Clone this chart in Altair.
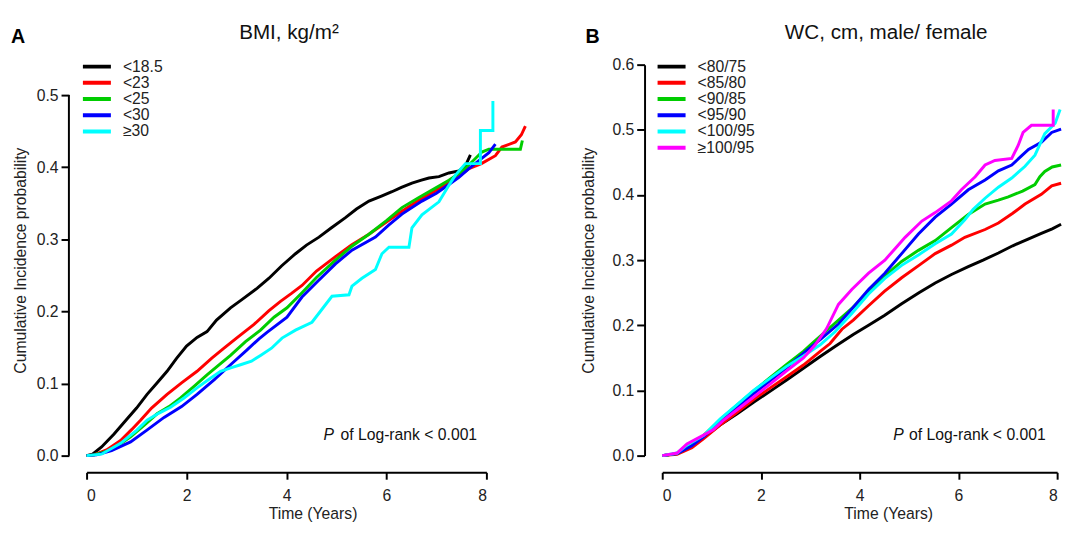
import altair as alt
import pandas as pd

FONT = "Liberation Sans"

# ---------------- Panel A: BMI ----------------
bmi_groups = ["<18.5", "<23", "<25", "<30", "≥30"]
bmi_colors = ["#000000", "#FF0000", "#00CD00", "#0000FF", "#00FFFF"]

a1_t = [0, 0.12, 0.3, 0.55, 0.8, 1.0, 1.21, 1.4, 1.61, 1.8, 2.0, 2.21, 2.41, 2.6, 2.88, 3.1, 3.41, 3.65,
        3.9, 4.18, 4.4, 4.65, 4.9, 5.18, 5.4, 5.65, 5.9, 6.11, 6.3, 6.51, 6.7, 6.85, 7.05, 7.25, 7.45, 7.58, 7.68]
a1_v = [0, 0.002, 0.012, 0.030, 0.050, 0.066, 0.085, 0.100, 0.117, 0.135, 0.152, 0.164, 0.172, 0.188, 0.205,
        0.216, 0.232, 0.246, 0.263, 0.280, 0.292, 0.303, 0.316, 0.330, 0.342, 0.353, 0.360, 0.366, 0.372,
        0.378, 0.382, 0.385, 0.387, 0.392, 0.395, 0.402, 0.417]

a2_t = [0, 0.15, 0.4, 0.68, 0.9, 1.08, 1.3, 1.61, 1.9, 2.21, 2.5, 2.75, 3.0, 3.35, 3.65, 3.88, 4.1, 4.31,
        4.6, 4.98, 5.3, 5.65, 6.0, 6.31, 6.6, 6.85, 7.1, 7.31, 7.65, 7.9, 8.18, 8.31, 8.58, 8.7, 8.78]
a2_v = [0, 0.001, 0.008, 0.021, 0.036, 0.049, 0.066, 0.085, 0.101, 0.117, 0.135, 0.149, 0.163, 0.182,
        0.201, 0.214, 0.225, 0.236, 0.256, 0.276, 0.292, 0.307, 0.324, 0.339, 0.352, 0.362, 0.372, 0.380,
        0.398, 0.405, 0.416, 0.428, 0.435, 0.445, 0.457]

a3_t = [0, 0.15, 0.5, 0.88, 1.15, 1.41, 1.65, 1.88, 2.15, 2.41, 2.65, 2.88, 3.18, 3.48, 3.75, 4.01, 4.31,
        4.6, 4.98, 5.3, 5.65, 6.0, 6.31, 6.65, 6.98, 7.25, 7.51, 7.75, 7.91, 8.05, 8.68, 8.72]
a3_v = [0, 0.001, 0.008, 0.026, 0.042, 0.058, 0.068, 0.080, 0.096, 0.112, 0.126, 0.139, 0.158, 0.174,
        0.192, 0.205, 0.226, 0.247, 0.271, 0.290, 0.307, 0.326, 0.344, 0.358, 0.371, 0.382, 0.394, 0.410,
        0.421, 0.425, 0.425, 0.437]

a4_t = [0, 0.2, 0.5, 0.88, 1.2, 1.55, 1.9, 2.21, 2.55, 2.88, 3.2, 3.45, 3.61, 4.01, 4.31, 4.6, 4.98, 5.31,
        5.78, 6.05, 6.31, 6.71, 7.0, 7.25, 7.45, 7.65, 7.9, 8.05, 8.18]
a4_v = [0, 0.001, 0.007, 0.019, 0.035, 0.053, 0.068, 0.085, 0.105, 0.126, 0.146, 0.162, 0.171, 0.192,
        0.220, 0.240, 0.266, 0.285, 0.303, 0.320, 0.335, 0.353, 0.364, 0.376, 0.386, 0.398, 0.412, 0.420, 0.432]

a5_t = [0, 0.3, 0.68, 1.0, 1.21, 1.45, 1.68, 1.95, 2.21, 2.45, 2.68, 2.9, 3.08, 3.3, 3.48, 3.7, 3.91, 4.18,
        4.51, 4.71, 4.91, 5.25, 5.31, 5.51, 5.78, 5.91, 6.05, 6.45, 6.51, 6.71, 7.05, 7.25, 7.38, 7.58, 7.88,
        7.88, 8.13, 8.13]
a5_v = [0, 0.002, 0.017, 0.035, 0.049, 0.059, 0.067, 0.080, 0.094, 0.106, 0.117, 0.122, 0.126, 0.131,
        0.139, 0.149, 0.163, 0.174, 0.185, 0.203, 0.221, 0.223, 0.235, 0.246, 0.258, 0.280, 0.289, 0.289,
        0.316, 0.334, 0.352, 0.375, 0.389, 0.405, 0.405, 0.451, 0.451, 0.492]

# ---------------- Panel B: WC ----------------
wc_groups = ["<80/75", "<85/80", "<90/85", "<95/90", "<100/95", "≥100/95"]
wc_colors = ["#000000", "#FF0000", "#00CD00", "#0000FF", "#00FFFF", "#FF00FF"]

b1_t = [0, 0.3, 0.6, 0.84, 1.17, 1.51, 1.85, 2.19, 2.52, 2.86, 3.2, 3.53, 3.87, 4.18, 4.5, 4.85, 5.2, 5.53,
        5.86, 6.2, 6.5, 6.81, 7.1, 7.4, 7.68, 7.9, 8.08]
b1_v = [0, 0.003, 0.014, 0.028, 0.047, 0.064, 0.082, 0.099, 0.116, 0.134, 0.152, 0.169, 0.186, 0.200,
        0.215, 0.233, 0.250, 0.265, 0.278, 0.290, 0.300, 0.311, 0.322, 0.332, 0.341, 0.348, 0.355]

b2_t = [0, 0.3, 0.6, 0.84, 1.17, 1.51, 1.85, 2.19, 2.52, 2.86, 3.2, 3.4, 3.64, 3.87, 4.18, 4.5, 4.85, 5.2,
        5.53, 5.86, 6.13, 6.54, 6.81, 7.1, 7.35, 7.68, 7.89, 8.08]
b2_v = [0, 0.002, 0.012, 0.026, 0.047, 0.066, 0.086, 0.104, 0.121, 0.139, 0.160, 0.172, 0.194, 0.208,
        0.230, 0.252, 0.273, 0.292, 0.310, 0.323, 0.335, 0.347, 0.357, 0.372, 0.386, 0.401, 0.414, 0.418]

b3_t = [0, 0.3, 0.6, 0.84, 1.17, 1.51, 1.85, 2.19, 2.52, 2.86, 3.06, 3.33, 3.6, 3.87, 4.18, 4.51, 4.85,
        5.19, 5.53, 5.86, 6.2, 6.54, 6.81, 7.01, 7.3, 7.55, 7.65, 7.75, 7.9, 8.08]
b3_v = [0, 0.003, 0.016, 0.031, 0.055, 0.077, 0.099, 0.120, 0.140, 0.160, 0.174, 0.192, 0.210, 0.228,
        0.252, 0.276, 0.298, 0.315, 0.330, 0.350, 0.370, 0.386, 0.392, 0.397, 0.406, 0.416, 0.428, 0.436,
        0.443, 0.446]

b4_t = [0, 0.3, 0.6, 0.84, 1.17, 1.51, 1.85, 2.19, 2.52, 2.86, 3.2, 3.57, 3.84, 4.18, 4.51, 4.85, 5.19,
        5.53, 5.86, 6.2, 6.54, 6.81, 7.08, 7.25, 7.42, 7.68, 7.89, 8.08]
b4_v = [0, 0.003, 0.015, 0.029, 0.051, 0.073, 0.095, 0.115, 0.135, 0.157, 0.178, 0.202, 0.225, 0.255,
        0.280, 0.310, 0.340, 0.366, 0.386, 0.408, 0.423, 0.437, 0.446, 0.458, 0.470, 0.481, 0.496, 0.501]

b5_t = [0, 0.3, 0.5, 0.84, 1.17, 1.51, 1.85, 2.19, 2.52, 2.86, 3.2, 3.5, 3.84, 4.18, 4.51, 4.85, 5.19,
        5.53, 5.86, 6.13, 6.3, 6.54, 6.81, 7.08, 7.35, 7.55, 7.75, 7.96, 8.06]
b5_v = [0, 0.004, 0.016, 0.031, 0.056, 0.078, 0.100, 0.119, 0.137, 0.153, 0.170, 0.190, 0.218, 0.248,
        0.272, 0.292, 0.308, 0.325, 0.340, 0.362, 0.378, 0.395, 0.412, 0.426, 0.444, 0.461, 0.494, 0.510, 0.531]

b6_t = [0, 0.3, 0.5, 0.8, 1.04, 1.25, 1.51, 1.85, 2.19, 2.52, 2.86, 3.1, 3.33, 3.57, 3.84, 4.18, 4.51,
        4.72, 4.92, 5.26, 5.53, 5.86, 6.06, 6.34, 6.54, 6.74, 7.08, 7.21, 7.31, 7.48, 7.92, 7.92]
b6_v = [0, 0.004, 0.018, 0.030, 0.040, 0.055, 0.070, 0.090, 0.110, 0.130, 0.150, 0.170, 0.195, 0.232,
        0.255, 0.280, 0.300, 0.318, 0.335, 0.360, 0.373, 0.391, 0.408, 0.428, 0.446, 0.453, 0.456, 0.476,
        0.496, 0.507, 0.507, 0.531]

# ---------------- Text ----------------
titles = ["BMI, kg/m²", "WC, cm, male/ female"]
letters = ["A", "B"]
p_italic = ["P"]
p_rest = ["of Log-rank < 0.001"]
y_title = "Cumulative Incidence probability"
x_title = "Time (Years)"


def make_frame(groups, series):
    rows = []
    for g, (ts, vs) in zip(groups, series):
        for i, (t, v) in enumerate(zip(ts, vs)):
            rows.append({"g": g, "t": t, "v": v, "i": i})
    return pd.DataFrame(rows)


dfA = make_frame(bmi_groups, [(a1_t, a1_v), (a2_t, a2_v), (a3_t, a3_v), (a4_t, a4_v), (a5_t, a5_v)])
dfB = make_frame(wc_groups, [(b1_t, b1_v), (b2_t, b2_v), (b3_t, b3_v), (b4_t, b4_v), (b5_t, b5_v),
                             (b6_t, b6_v)])


def panel(df, groups, colors, y_top, y_ticks, rule_top, title, letter, width, ytitle_x, p_t, o_t, p_v,
          title_x, letter_x, legend_x):
    x = alt.X("t:Q", scale=alt.Scale(domain=[0, 8], nice=False, zero=False),
              axis=alt.Axis(values=[0, 2, 4, 6, 8], format="d", offset=17, tickSize=7, labelPadding=9,
                            title=x_title, titleX=230, titleY=47, titleBaseline="alphabetic",
                            titleAnchor="middle"))
    y = alt.Y("v:Q", scale=alt.Scale(domain=[0, y_top], nice=False),
              axis=alt.Axis(values=y_ticks, format=".1f", offset=18, tickSize=8, labelPadding=3,
                            domain=rule_top is None, title=y_title, titleX=ytitle_x,
                            titleBaseline="middle"))
    lines = alt.Chart(df).mark_line(strokeWidth=3, clip=False).encode(
        x=x, y=y,
        color=alt.Color("g:N", scale=alt.Scale(domain=groups, range=colors),
                        legend=alt.Legend(title=None, orient="none", legendX=legend_x, legendY=-6,
                                          symbolType="stroke", symbolSize=812, symbolStrokeWidth=4,
                                          labelFontSize=16, labelFont=FONT, labelColor="#222",
                                          labelOffset=10, clipHeight=16, rowPadding=0.5, padding=0)),
        order="i:Q",
    )
    layers = [lines]
    if rule_top is not None:
        layers.append(alt.Chart(pd.DataFrame({"lo": [0.0], "hi": [rule_top]})).mark_rule(
            strokeWidth=2, color="black").encode(x=alt.value(-18), y="lo:Q", y2="hi:Q"))
    ttl = alt.Chart(pd.DataFrame({"s": [title]})).mark_text(
        font=FONT, fontSize=21, color="#111", align="center", baseline="alphabetic").encode(
        x=alt.value(title_x), y=alt.value(-26), text="s:N")
    let = alt.Chart(pd.DataFrame({"s": [letter]})).mark_text(
        font=FONT, fontSize=20, fontWeight="bold", color="#000", align="left", baseline="alphabetic").encode(
        x=alt.value(letter_x), y=alt.value(-22), text="s:N")
    pt = alt.Chart(pd.DataFrame({"s": p_italic, "t": [p_t], "v": [p_v]})).mark_text(
        font=FONT, fontSize=16, fontStyle="italic", color="#111", align="left", baseline="alphabetic").encode(
        x="t:Q", y="v:Q", text="s:N")
    pr = alt.Chart(pd.DataFrame({"s": p_rest, "t": [o_t], "v": [p_v]})).mark_text(
        font=FONT, fontSize=16, color="#111", align="left", baseline="alphabetic").encode(
        x="t:Q", y="v:Q", text="s:N")
    layers += [ttl, let, pt, pr]
    return alt.layer(*layers).properties(width=width, height=398)


pA = panel(dfA, bmi_groups, bmi_colors, 398 / 734, [0, 0.1, 0.2, 0.3, 0.4, 0.5], 0.5, titles[0], letters[0],
           407, -49.5, 4.74, 5.08, 0.0218, 206, -77, -6)
pB = panel(dfB, wc_groups, wc_colors, 0.6, [0, 0.1, 0.2, 0.3, 0.4, 0.5, 0.6], None, titles[1], letters[1],
           402, -57.3, 4.68, 5.0, 0.024, 228, -78, -7)

chart = alt.hconcat(pA, pB, spacing=49).resolve_scale(color="independent").properties(
    padding={"left": 3, "top": 10, "right": -3, "bottom": 2}
).configure_view(stroke=None).configure_axis(
    grid=False, domainColor="#000", domainWidth=2, tickColor="#000", tickWidth=2,
    labelFont=FONT, labelFontSize=16, labelColor="#222", titleFont=FONT, titleFontSize=16,
    titleColor="#222", titleFontWeight="normal"
)

chart.save("out.html", embed_options={"renderer": "svg", "actions": False})
